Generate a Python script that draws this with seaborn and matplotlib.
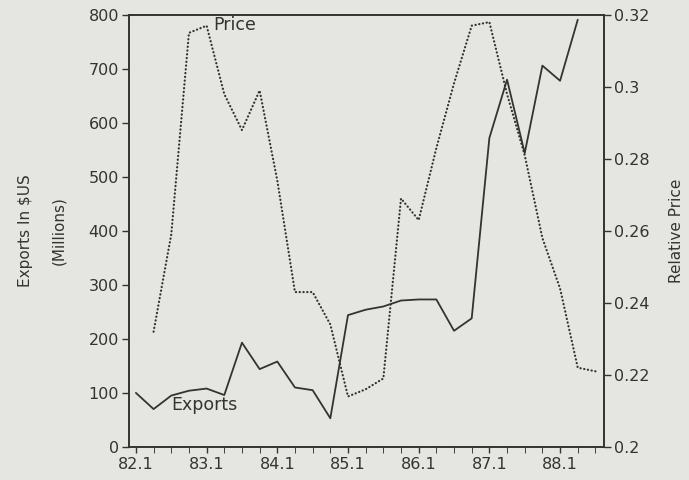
import numpy as np
import pandas as pd
import matplotlib.pyplot as plt
import seaborn as sns

# quarterly data, 82.1 .. 88.3
quarters = ["82.1", "82.2", "82.3", "82.4", "83.1", "83.2", "83.3", "83.4",
            "84.1", "84.2", "84.3", "84.4", "85.1", "85.2", "85.3", "85.4",
            "86.1", "86.2", "86.3", "86.4", "87.1", "87.2", "87.3", "87.4",
            "88.1", "88.2", "88.3"]

# exports in millions of $US (no value for 88.3)
exports = [100, 70, 95, 104, 108, 96, 193, 144, 158, 110, 105, 53, 244, 254,
           260, 271, 273, 273, 215, 238, 572, 680, 544, 706, 678, 791, np.nan]

# relative price (no value for 82.1)
price = [np.nan, 0.232, 0.259, 0.315, 0.317, 0.298, 0.288, 0.299, 0.274, 0.243,
         0.243, 0.234, 0.214, 0.216, 0.219, 0.269, 0.263, 0.283, 0.301, 0.317,
         0.318, 0.298, 0.281, 0.258, 0.244, 0.222, 0.221]

year_labels = ["82.1", "83.1", "84.1", "85.1", "86.1", "87.1", "88.1"]
left_ticks = [0, 100, 200, 300, 400, 500, 600, 700, 800]
right_ticks = [0.2, 0.22, 0.24, 0.26, 0.28, 0.3, 0.32]
right_labels = ["0.2", "0.22", "0.24", "0.26", "0.28", "0.3", "0.32"]

df = pd.DataFrame({"quarter": quarters, "Exports": exports, "Price": price})
df["t"] = np.arange(len(df))

sns.set_style("ticks")
plt.rcParams["font.family"] = ["DejaVu Sans"]
bg = "#e5e6e1"
ink = "#333333"

fig, ax = plt.subplots(figsize=(6.89, 4.8), dpi=100)
fig.patch.set_facecolor(bg)
ax.set_facecolor(bg)
fig.subplots_adjust(left=0.187, right=0.877, top=0.969, bottom=0.069)

ax2 = ax.twinx()

sns.lineplot(data=df, x="t", y="Exports", ax=ax, color=ink, lw=1.3)
# dotted price line: tiny round dashes spaced apart
sns.lineplot(data=df, x="t", y="Price", ax=ax2, color=ink, lw=1.6,
             dashes=False, ls=(0, (0.1, 1.6)), dash_capstyle="round")

ax.set_xlim(-0.4, 26.5)
ax.set_ylim(0, 800)
ax2.set_ylim(0.2, 0.32)

ax.set_xticks(df["t"][::4])
ax.set_xticklabels(year_labels)
ax.set_xticks(df["t"], minor=True)
ax.set_yticks(left_ticks)
ax2.set_yticks(right_ticks)
ax2.set_yticklabels(right_labels)

for a in (ax, ax2):
    for s in a.spines.values():
        s.set_color(ink)
        s.set_linewidth(1.2)
    a.tick_params(colors=ink, labelsize=11.5, direction="out", width=1)

ax.tick_params(axis="x", which="both", length=4, pad=3)
ax.tick_params(axis="y", length=5, pad=2)
ax2.tick_params(axis="y", length=5, pad=2)

ax.set_xlabel("")
ax.set_ylabel("Exports In \\$US\n(Millions)", fontsize=11, color=ink,
              linespacing=2.5, labelpad=16)
ax2.set_ylabel("Relative Price", fontsize=11, color=ink, labelpad=14)

ax.text(2.0, 78, "Exports", fontsize=12.5, color=ink, va="center", ha="left")
ax.text(4.35, 781, "Price", fontsize=12.5, color=ink, va="center", ha="left")

fig.savefig("out.png", dpi=100, facecolor=bg)
